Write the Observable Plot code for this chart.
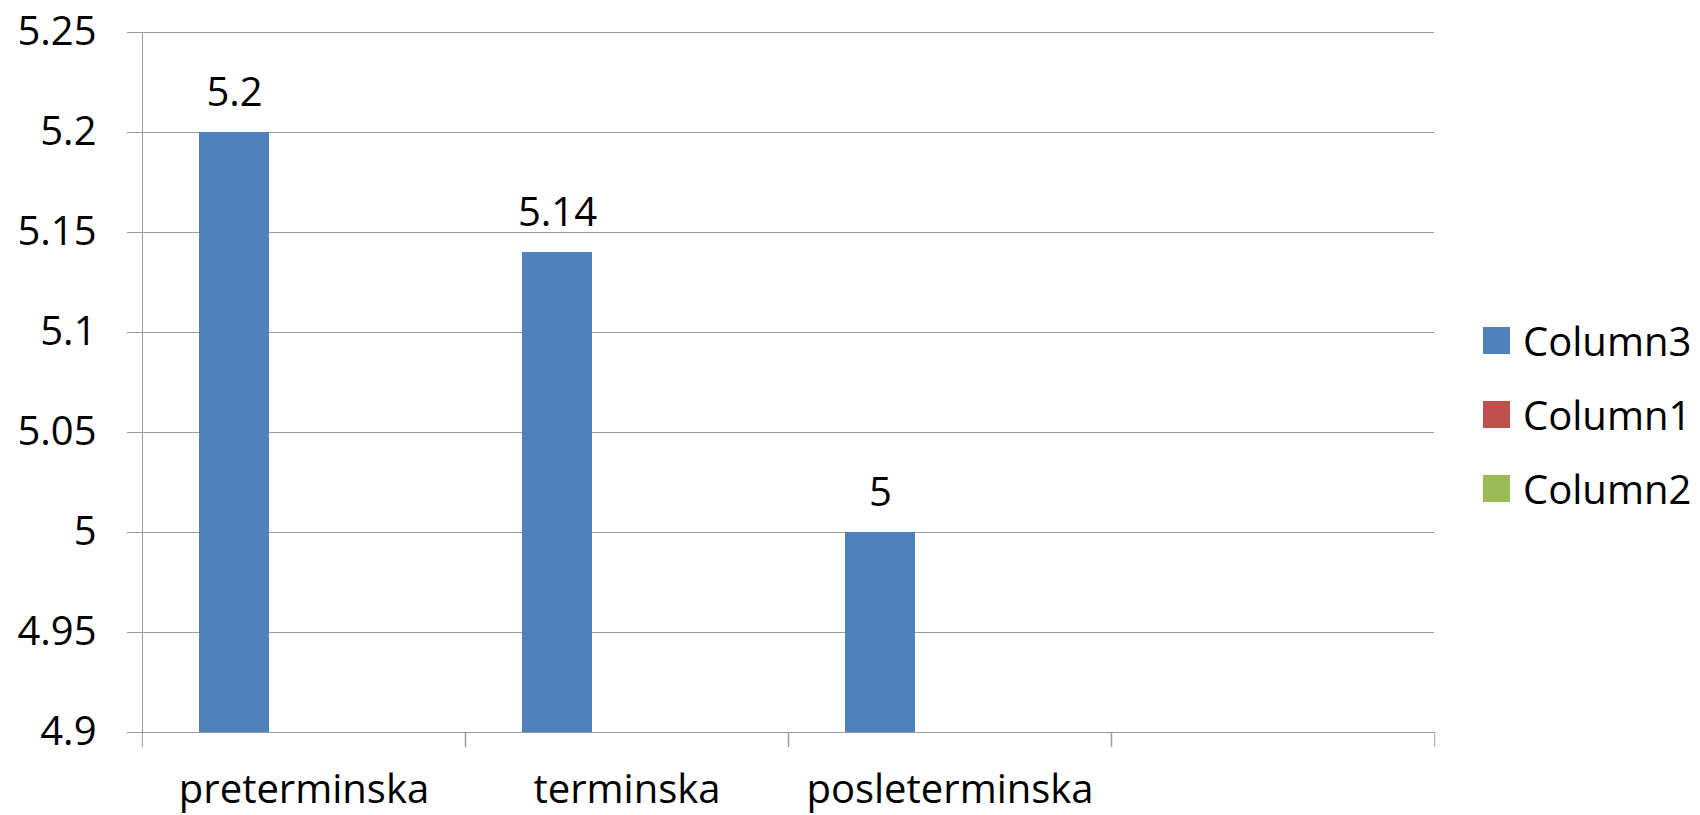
<!DOCTYPE html>
<html>
<head>
<meta charset="utf-8">
<script src="https://cdn.jsdelivr.net/npm/d3@7"></script>
<script src="https://cdn.jsdelivr.net/npm/@observablehq/plot@0.6"></script>
<style>
  html, body { margin: 0; padding: 0; background: #fff; }
  #wrap { position: relative; width: 1700px; height: 815px; font-family: 'Open Sans', sans-serif; }
  #legend { position: absolute; left: 1483px; top: 303px; }
  .row { display: flex; align-items: center; height: 74px; font-size: 40px; color: #000; }
  .sw { width: 27px; height: 27px; margin-right: 13px; }
</style>
</head>
<body>
<div id="wrap"><div id="legend"></div></div>
<script>
const categories = ["preterminska", "terminska", "posleterminska", ""];
const series = ["Column3", "Column1", "Column2"];
const column3 = [5.2, 5.14, 5, null];
const column1 = [null, null, null, null];
const column2 = [null, null, null, null];
const colors = ["#4F81BD", "#C0504D", "#9BBB59"];
const yTicks = [4.9, 4.95, 5, 5.05, 5.1, 5.15, 5.2, 5.25];

const valuesBySeries = {Column3: column3, Column1: column1, Column2: column2};
const table = [];
categories.forEach((c, i) => series.forEach(s => table.push({category: c, series: s, value: valuesBySeries[s][i]})));

const W = 1700, H = 815, mL = 141, mR = 265, mT = 32, mB = 83;
const bw = (W - mL - mR) / categories.length;
const grid = "#9a9a9a";

const chart = Plot.plot({
  width: W, height: H,
  marginLeft: mL, marginRight: mR, marginTop: mT, marginBottom: mB,
  style: {fontFamily: "'Open Sans', sans-serif", fontSize: "40px", color: "#000", background: "#fff"},
  fx: {domain: categories, padding: 0, label: null, axis: null},
  x: {domain: series, paddingInner: 0, paddingOuter: 0.778, axis: null},
  y: {domain: [yTicks[0], yTicks[yTicks.length - 1]], axis: null},
  color: {domain: series, range: colors},
  marks: [
    Plot.gridY(yTicks, {stroke: grid, strokeOpacity: 1}),
    Plot.frame({anchor: "left", stroke: grid, facetAnchor: "left"}),
    Plot.axisY(yTicks, {tickSize: 15, tickPadding: 31, stroke: grid, fontSize: 40, label: null, tickFormat: d => String(d)}),
    Plot.barY(table, {fx: "category", x: "series", y1: yTicks[0], y2: "value", fill: "series"}),
    Plot.text(table, {fx: "category", x: "series", y: "value", text: d => d.value == null ? null : String(d.value), lineAnchor: "bottom", dy: -27, fontSize: 40, fill: "#000"}),
    Plot.axisFx({anchor: "bottom", tickSize: 0, tickPadding: 42, fontSize: 40, label: null}),
    Plot.axisFx({anchor: "bottom", tickSize: 15, tickFormat: () => "", dx: -bw / 2, stroke: grid, label: null}),
    Plot.axisFx({anchor: "bottom", tickSize: 15, tickFormat: () => "", dx: bw / 2, stroke: grid, label: null})
  ]
});
document.getElementById("wrap").prepend(chart);

const legend = d3.select("#legend");
series.forEach((s, i) => {
  const row = legend.append("div").attr("class", "row");
  row.append("div").attr("class", "sw").style("background", colors[i]);
  row.append("span").text(s);
});
</script>
</body>
</html>
